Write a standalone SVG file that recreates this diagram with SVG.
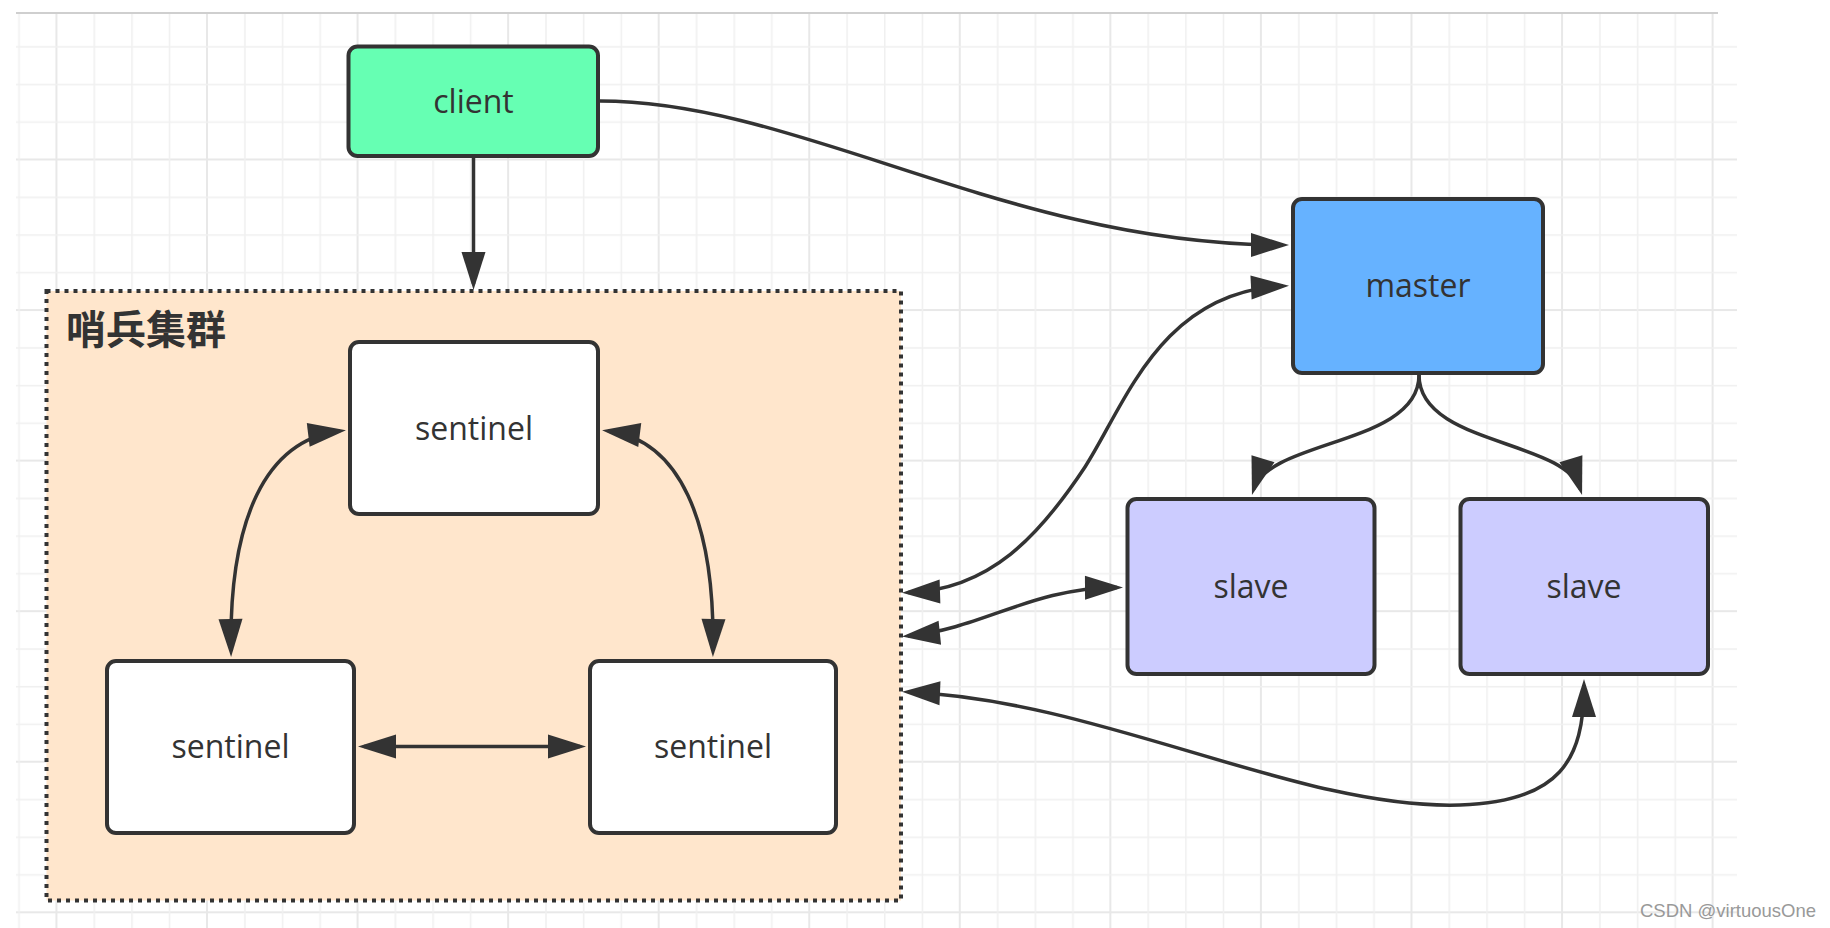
<svg xmlns="http://www.w3.org/2000/svg" width="1830" height="928" viewBox="0 0 1830 928">
<defs>
<style>
.box{stroke:#333;stroke-width:4;}
.lbl{font-family:"Open Sans","Noto Sans",sans-serif;font-size:32px;fill:#333;text-anchor:middle;}
.edge{fill:none;stroke:#333;stroke-width:3.5;}
.one{marker-end:url(#ah);}
.two{marker-start:url(#ah);marker-end:url(#ah);}
</style>
<marker id="ah" markerUnits="userSpaceOnUse" markerWidth="38" markerHeight="24" viewBox="0 0 38 24" refX="32" refY="12" orient="auto-start-reverse" overflow="visible"><path d="M0,0 L38,12 L0,24 z" fill="#333"/></marker>
<pattern id="grid" patternUnits="userSpaceOnUse" x="206" y="158.5" width="150.56" height="150.56">
<rect x="0" y="0" width="2" height="150.56" fill="#e8e8e8"/>
<rect x="0" y="0" width="150.56" height="2" fill="#e8e8e8"/>
<rect x="38.14" y="0" width="1.5" height="150.56" fill="#f0f0f0"/>
<rect x="75.78" y="0" width="1.5" height="150.56" fill="#f0f0f0"/>
<rect x="113.42" y="0" width="1.5" height="150.56" fill="#f0f0f0"/>
<rect x="0" y="38.14" width="150.56" height="1.5" fill="#f0f0f0"/>
<rect x="0" y="75.78" width="150.56" height="1.5" fill="#f0f0f0"/>
<rect x="0" y="113.42" width="150.56" height="1.5" fill="#f0f0f0"/>
</pattern>
</defs>
<rect x="0" y="0" width="1830" height="928" fill="#fff"/>
<rect x="16" y="14" width="1721" height="914" fill="url(#grid)"/>
<line x1="16" y1="13" x2="1718" y2="13" stroke="#cfcfcf" stroke-width="2"/>

<g id="sentinel-cluster">
<rect x="46.5" y="291" width="854.5" height="609.5" fill="#FFE6CC" stroke="#333" stroke-width="4" stroke-dasharray="4 5"/>
<text x="66" y="344" font-family="'Noto Sans CJK SC',sans-serif" font-weight="bold" font-size="40" fill="#333">哨兵集群</text>
</g>

<g id="client">
<rect class="box" x="348.5" y="46.5" width="249.5" height="109.5" rx="9" fill="#66FFB3"/>
<text class="lbl" x="473.5" y="113">client</text>
</g>

<g id="master">
<rect class="box" x="1293" y="199" width="250" height="174" rx="9" fill="#66B2FF"/>
<text class="lbl" x="1418" y="297">master</text>
</g>

<g id="slave-1">
<rect class="box" x="1127.5" y="499" width="247" height="175" rx="9" fill="#CCCCFF"/>
<text class="lbl" x="1251" y="598">slave</text>
</g>

<g id="slave-2">
<rect class="box" x="1460.5" y="499" width="247.5" height="175" rx="9" fill="#CCCCFF"/>
<text class="lbl" x="1584" y="598">slave</text>
</g>

<g id="sentinel-top">
<rect class="box" x="350" y="342" width="248" height="172" rx="9" fill="#fff"/>
<text class="lbl" x="474" y="440">sentinel</text>
</g>

<g id="sentinel-left">
<rect class="box" x="107" y="661" width="247" height="172" rx="9" fill="#fff"/>
<text class="lbl" x="230.5" y="758">sentinel</text>
</g>

<g id="sentinel-right">
<rect class="box" x="590" y="661" width="246" height="172" rx="9" fill="#fff"/>
<text class="lbl" x="713" y="758">sentinel</text>
</g>

<g id="connectors">
<path class="edge one" d="M473.5,158 L473.5,284"/>
<path class="edge one" d="M600,101 C800,101 1010,245 1283,245"/>
<path class="edge two" d="M908,592.5 C990,590 1040,535 1085,467 C1125,405 1160,292 1283,286"/>
<path class="edge two" d="M908,636 C985,628 1030,588 1117,587.5"/>
<path class="edge two" d="M908,692 C1100,700 1300,810 1460,805 C1560,802 1584,760 1584,685"/>
<path class="edge two" d="M231,651 C229,520 265,440 340,431"/>
<path class="edge two" d="M713,651 C715,520 679,440 608,431"/>
<path class="edge two" d="M364,746.5 L580,746.5"/>
<path class="edge one" d="M1419,375 C1419,445 1268.8,439.5 1253.7,489.3"/>
<path class="edge one" d="M1419,375 C1419,445 1565,439.5 1580.3,489.3"/>
</g>

<text x="1640" y="917" font-family="'Liberation Sans',Arial,sans-serif" font-size="18.5" fill="#999">CSDN @virtuousOne</text>
</svg>
